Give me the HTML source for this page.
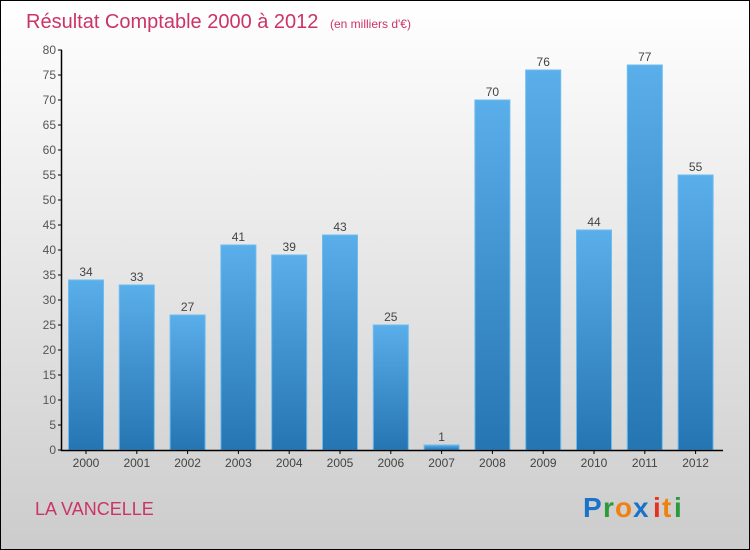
<!DOCTYPE html>
<html><head><meta charset="utf-8"><style>
body{margin:0}
#c{width:748px;height:548px;border:1px solid #000;position:relative;background:linear-gradient(#fff,#ccc);font-family:"Liberation Sans",sans-serif;overflow:hidden}
</style></head><body>
<div id="c">
<svg width="748" height="548" id="s">
<defs><linearGradient id="g" x1="0" y1="0" x2="0" y2="1"><stop offset="0" stop-color="#5aaeea"/><stop offset="1" stop-color="#2575b2"/></linearGradient></defs>
<text x="25" y="27" font-size="20" fill="#cc3366">Résultat Comptable 2000 à 2012 <tspan font-size="12" dx="6">(en milliers d'€)</tspan></text>
<text x="34" y="514" font-size="18" fill="#cc3366">LA VANCELLE</text>
<g font-size="28" font-weight="bold">
<text x="582" y="516" fill="#1a73c8">P</text><text x="602" y="516" fill="#2a9a3a">r</text><text x="614" y="516" fill="#f08010">o</text><text x="632" y="516" fill="#1a73c8">x</text><text x="652" y="516" fill="#e83020">i</text><text x="661" y="516" fill="#f08010">t</text><text x="673" y="516" fill="#2a9a3a">i</text>
</g>
<g id="plot"></g>
</svg></div>
<script>
const years=["2000","2001","2002","2003","2004","2005","2006","2007","2008","2009","2010","2011","2012"];
const values=[34,33,27,41,39,43,25,1,70,76,44,77,55];
const yTicks=[0,5,10,15,20,25,30,35,40,45,50,55,60,65,70,75,80];
const ns="http://www.w3.org/2000/svg",p=document.getElementById('plot');
const y=v=>449-v*5, x=i=>85+i*50.8;
function mk(t,a){const e=document.createElementNS(ns,t);for(const k in a)e.setAttribute(k,a[k]);p.appendChild(e);return e;}
values.forEach((v,i)=>{
const r=mk('rect',{x:x(i)-17.5,y:y(v),width:35,height:v*5,fill:'url(#g)',stroke:'#6bbcf0','stroke-width':1});


const t=mk('text',{x:x(i),y:y(v)-4,'text-anchor':'middle','font-size':12,fill:'#444'});t.textContent=v;


const l=mk('text',{x:x(i),y:466,'text-anchor':'middle','font-size':12,fill:'#444'});l.textContent=years[i];


mk('line',{x1:x(i),x2:x(i),y1:449,y2:453,stroke:'#000'});
});
yTicks.forEach(v=>{
mk('line',{x1:57,x2:61,y1:y(v),y2:y(v),stroke:'#000'});
const t=mk('text',{x:55,y:y(v)+4,'text-anchor':'end','font-size':12,fill:'#555'});t.textContent=v;


});
const ax=mk('path',{d:'M60.5 49V449.5H722',stroke:'#000',fill:'none','stroke-width':1.5});


</script>
</body></html>
